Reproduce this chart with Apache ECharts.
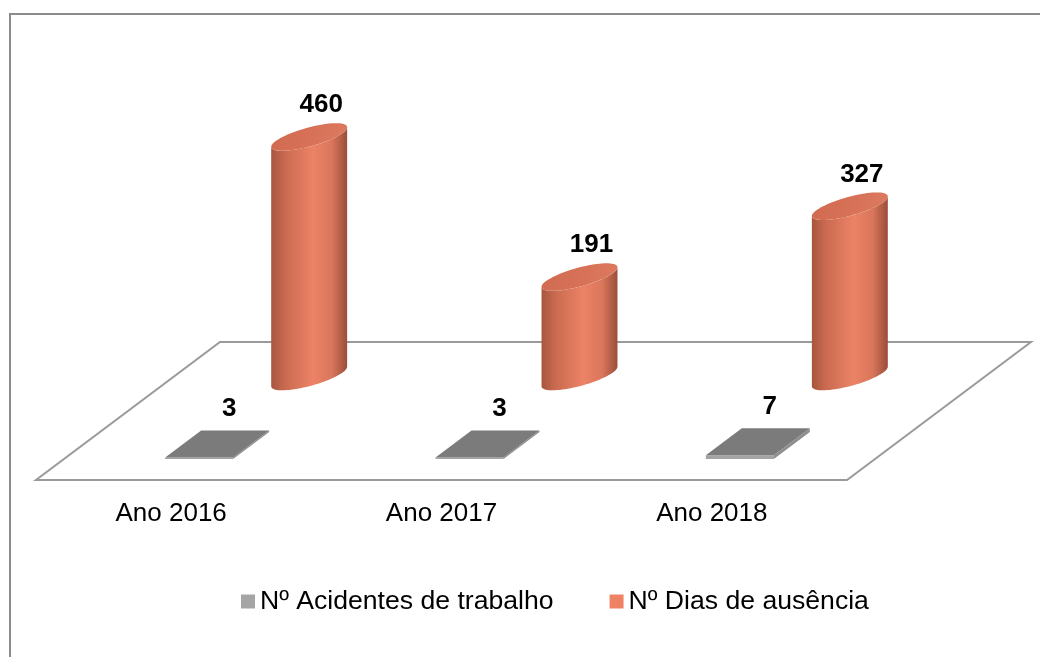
<!DOCTYPE html>
<html>
<head>
<meta charset="utf-8">
<title>Acidentes de trabalho</title>
<script src="https://cdn.jsdelivr.net/npm/echarts@6/dist/echarts.min.js"></script>
<style>
  html, body { margin: 0; padding: 0; background: #fff; }
  #chart { width: 1040px; height: 657px; }
</style>
</head>
<body>
<div id="chart"></div>
<script>
// dados
const categories = ['Ano 2016', 'Ano 2017', 'Ano 2018'];
const acidentes = [3, 3, 7];
const diasAusencia = [460, 191, 327];
const seriesNames = ['Nº Acidentes de trabalho', 'Nº Dias de ausência'];

// perspectiva do chão
const FLOOR_DX = 184;
const FLOOR_DY = -138;
const FONT = '"Liberation Sans", Arial, sans-serif';

const chart = echarts.init(document.getElementById('chart'));

function toPairs(values) {
  return values.map((v, i) => [i, v]);
}

// chão (plano em perspectiva)
function renderFloor(params, api) {
  const band = api.size([1, 0])[0];
  const c0 = api.coord([0, 0]);
  const left = c0[0] - band / 2;
  const right = left + band * categories.length;
  const y = c0[1];
  return {
    type: 'polygon',
    shape: {
      points: [[left, y], [right, y], [right + FLOOR_DX, y + FLOOR_DY], [left + FLOOR_DX, y + FLOOR_DY]]
    },
    style: { fill: '#fff', stroke: '#9a9a9a', lineWidth: 2 }
  };
}

function label(x, y, text) {
  return {
    type: 'text',
    style: {
      x: x, y: y, text: String(text),
      fill: '#000', font: 'bold 26px ' + FONT,
      align: 'center', verticalAlign: 'middle'
    },
    z2: 10
  };
}

// caixas cinzentas (fila da frente)
function renderBox(params, api) {
  const idx = api.value(0);
  const val = api.value(1);
  const base = api.coord([idx, 0]);
  const h = base[1] - api.coord([idx, val])[1];
  const cx = base[0] + FLOOR_DX * 0.25;
  const cy = base[1] + FLOOR_DY * 0.25;
  const hw = 34, ddx = 18, ddy = -13.5;
  const fl = [cx - hw - ddx, cy - ddy];
  const fr = [cx + hw - ddx, cy - ddy];
  const br = [cx + hw + ddx, cy + ddy];
  const bl = [cx - hw + ddx, cy + ddy];
  const up = p => [p[0], p[1] - h];
  return {
    type: 'group',
    children: [
      { type: 'polygon', shape: { points: [fl, fr, up(fr), up(fl)] }, style: { fill: '#a3a3a3' } },
      { type: 'polygon', shape: { points: [fr, br, up(br), up(fr)] }, style: { fill: '#8e8e8e' } },
      { type: 'polygon', shape: { points: [up(fl), up(fr), up(br), up(bl)] }, style: { fill: '#7b7b7b' } },
      label(cx + 12, cy - h + ddy - 22, val)
    ]
  };
}

// cilindros (fila de trás)
const EA = 26.7, EB = 27, EC = 13.8;
function ellipsePoint(cx, cy, t) {
  return [cx + EA * Math.cos(t) + EB * Math.sin(t), cy - EC * Math.sin(t)];
}

function renderCylinder(params, api) {
  const idx = api.value(0);
  const val = api.value(1);
  const base = api.coord([idx, 0]);
  const h = base[1] - api.coord([idx, val])[1];
  const cx = base[0] + FLOOR_DX * 0.75;
  const cy = base[1] + FLOOR_DY * 0.75;
  const ty = cy - h;
  const tR = Math.atan2(EB, EA);
  const steps = 40;
  const body = [];
  for (let i = 0; i <= steps; i++) {
    body.push(ellipsePoint(cx, cy, tR - Math.PI * i / steps));
  }
  for (let i = 0; i <= steps; i++) {
    body.push(ellipsePoint(cx, ty, tR - Math.PI + Math.PI * i / steps));
  }
  const topPts = [];
  for (let i = 0; i < 80; i++) {
    topPts.push(ellipsePoint(cx, ty, Math.PI * 2 * i / 80));
  }
  return {
    type: 'group',
    children: [
      {
        type: 'polygon',
        shape: { points: body },
        style: {
          fill: new echarts.graphic.LinearGradient(0, 0, 1, 0, [
            { offset: 0, color: '#a8553f' },
            { offset: 0.18, color: '#c96a50' },
            { offset: 0.55, color: '#ec8366' },
            { offset: 0.8, color: '#d9765b' },
            { offset: 1, color: '#9b4d39' }
          ])
        }
      },
      {
        type: 'polygon',
        shape: { points: topPts },
        style: {
          fill: new echarts.graphic.LinearGradient(0, 0, 1, 1, [
            { offset: 0, color: '#d0694f' },
            { offset: 1, color: '#dd7a5f' }
          ])
        }
      },
      label(cx + 12, ty - EC - 18, val)
    ]
  };
}

const option = {
  animation: false,
  backgroundColor: '#fff',
  graphic: [
    {
      type: 'rect',
      shape: { x: 10, y: 14, width: 1040, height: 660 },
      style: { fill: 'none', stroke: '#8c8c8c', lineWidth: 2 },
      z: -10
    }
  ],
  legend: {
    data: seriesNames,
    left: 241,
    top: 588,
    padding: 0,
    icon: 'rect',
    itemWidth: 14,
    itemHeight: 14,
    itemGap: 56,
    textStyle: { fontSize: 26.6, color: '#000', fontFamily: FONT }
  },
  grid: {
    left: 36,
    right: 193,
    top: 167.6,
    bottom: 177
  },
  xAxis: {
    type: 'category',
    data: categories,
    axisLine: { show: false },
    axisTick: { show: false },
    axisLabel: { fontSize: 26, color: '#000', fontFamily: FONT, margin: 21 }
  },
  yAxis: {
    type: 'value',
    min: 0,
    max: 600,
    show: false
  },
  series: [
    {
      type: 'custom',
      name: 'chao',
      renderItem: renderFloor,
      data: [[0, 0]],
      silent: true,
      z: 1
    },
    {
      type: 'custom',
      name: seriesNames[0],
      renderItem: renderBox,
      data: toPairs(acidentes),
      itemStyle: { color: '#a5a5a5' },
      z: 2
    },
    {
      type: 'custom',
      name: seriesNames[1],
      renderItem: renderCylinder,
      data: toPairs(diasAusencia),
      itemStyle: { color: '#ef8164' },
      z: 3
    }
  ]
};

chart.setOption(option);
</script>
</body>
</html>
